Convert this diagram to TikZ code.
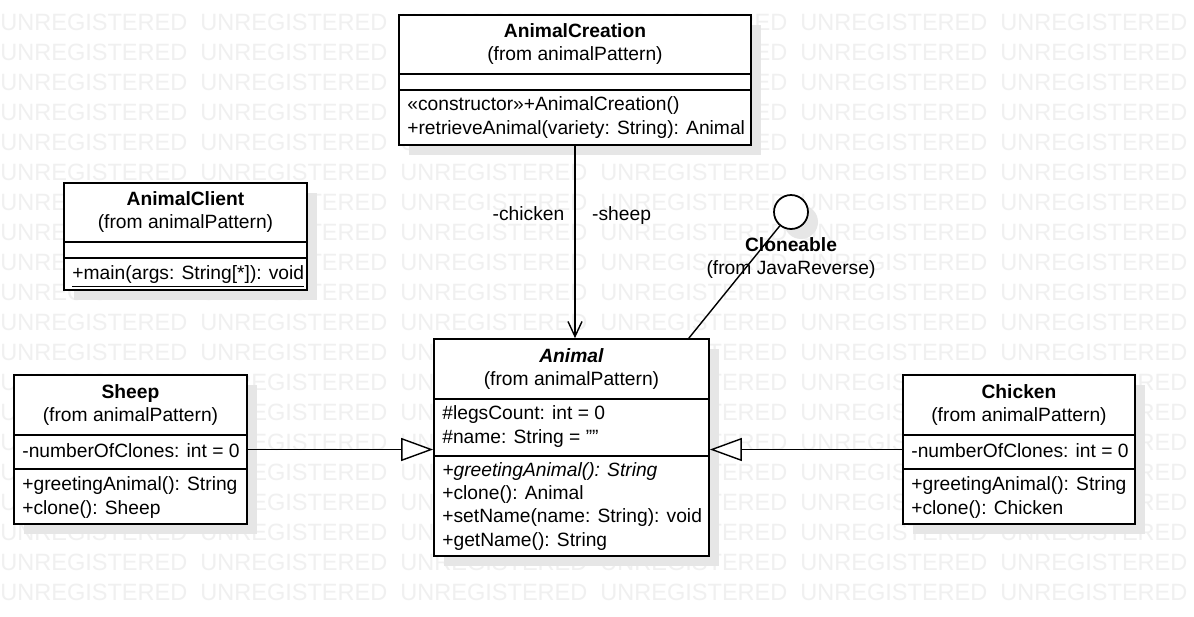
\documentclass[tikz,border=0pt]{standalone}
\usepackage{fontspec}
\setmainfont{Liberation Sans}
\usepackage{xcolor}
\usepackage{tikz}
\usetikzlibrary{arrows.meta, shadows}

\definecolor{markgray}{RGB}{240,240,240}
\definecolor{shadowgray}{RGB}{230,230,230}

\begin{document}
\begin{tikzpicture}[x=0.02cm, y=-0.02cm,
  every node/.style={font=\fontsize{10.95}{13.1}\selectfont, inner sep=0},
  umlbox/.style={draw, line width=1pt, fill=white, rectangle,
    drop shadow={shadow xshift=0.2cm, shadow yshift=-0.2cm, fill=shadowgray, opacity=1}},
  wmtext/.style={text=markgray, anchor=west, font=\fontsize{13.4}{16}\selectfont},
  header/.style={align=center},
  members/.style={align=left, anchor=base west},
  assoc/.style={line width=0.8pt, -{Straight Barb[length=0.3cm, width=0.28cm, line width=0.8pt]}},
  inherit/.style={line width=0.8pt, -{Triangle[open, fill=white, length=0.64cm, width=0.46cm, line width=0.8pt]}}
]
  % Page and watermark
  \fill[white] (0,0) rectangle (1194,616);
  \useasboundingbox (0,0) rectangle (1194,616);
  \foreach \r in {0,...,19}
    \foreach \c in {0,...,5}
      \node[wmtext] (wm-\r-\c) at ({200*\c},{22+30*\r}) {UNREGISTERED};

  % Class boxes
  \node[umlbox, minimum width=7.04cm, minimum height=2.6cm] (creation) at (575,80) {};
  \node[umlbox, minimum width=4.86cm, minimum height=2.14cm] (client) at (185.5,236.5) {};
  \node[umlbox, minimum width=5.5cm, minimum height=4.34cm] (animal) at (571.5,447.5) {};
  \node[umlbox, minimum width=4.66cm, minimum height=2.98cm] (sheep) at (130.5,449.5) {};
  \node[umlbox, minimum width=4.64cm, minimum height=2.98cm] (chicken) at (1019,449.5) {};

  % Compartment lines
  \draw[line width=1pt] (creation.west |- 0,74) -- (creation.east |- 0,74);
  \draw[line width=1pt] (creation.west |- 0,90) -- (creation.east |- 0,90);
  \draw[line width=1pt] (client.west |- 0,242) -- (client.east |- 0,242);
  \draw[line width=1pt] (client.west |- 0,258) -- (client.east |- 0,258);
  \draw[line width=1pt] (animal.west |- 0,399) -- (animal.east |- 0,399);
  \draw[line width=1pt] (animal.west |- 0,456) -- (animal.east |- 0,456);
  \draw[line width=1pt] (sheep.west |- 0,435) -- (sheep.east |- 0,435);
  \draw[line width=1pt] (sheep.west |- 0,469) -- (sheep.east |- 0,469);
  \draw[line width=1pt] (chicken.west |- 0,435) -- (chicken.east |- 0,435);
  \draw[line width=1pt] (chicken.west |- 0,469) -- (chicken.east |- 0,469);

  % AnimalCreation (member nodes sit on the baseline of their last line)
  \node[header] (creation-name) at (575,44.5) {\textbf{AnimalCreation}\\(from animalPattern)};
  \node[members] (creation-ops) at (407,134) {«constructor»+AnimalCreation()\\+retrieveAnimal(variety: String): Animal};

  % AnimalClient
  \node[header] (client-name) at (185.5,212.5) {\textbf{AnimalClient}\\(from animalPattern)};
  \node[members] (client-ops) at (72,279.5) {\underline{+main(args: String[*]): void}};

  % Animal
  \node[header] (animal-name) at (571.5,369) {\textbf{\textit{Animal}}\\(from animalPattern)};
  \node[members] (animal-attrs) at (442,443) {\#legsCount: int = 0\\\#name: String = \char34\char34};
  \node[members] (animal-ops) at (442,546) {\textit{+greetingAnimal(): String}\\+clone(): Animal\\+setName(name: String): void\\+getName(): String};

  % Sheep
  \node[header] (sheep-name) at (130.5,405) {\textbf{Sheep}\\(from animalPattern)};
  \node[members] (sheep-attrs) at (22,457) {-numberOfClones: int = 0};
  \node[members] (sheep-ops) at (22,514) {+greetingAnimal(): String\\+clone(): Sheep};

  % Chicken
  \node[header] (chicken-name) at (1019,405) {\textbf{Chicken}\\(from animalPattern)};
  \node[members] (chicken-attrs) at (911,457) {-numberOfClones: int = 0};
  \node[members] (chicken-ops) at (911,514) {+greetingAnimal(): String\\+clone(): Chicken};

  % Cloneable interface
  \node[draw, circle, line width=1pt, fill=white, minimum size=0.68cm,
    drop shadow={shadow xshift=0.2cm, shadow yshift=-0.2cm, fill=shadowgray, opacity=1}] (cloneable) at (791,212) {};
  \node[header] (cloneable-name) at (791,258.5) {\textbf{Cloneable}\\(from JavaReverse)};

  % Association with role names
  \draw[assoc] (creation.south) -- (creation.south |- animal.north)
    node[pos=0.387, anchor=base east, xshift=-0.2cm] (role-chicken) {-chicken}
    node[pos=0.387, anchor=base west, xshift=0.33cm] (role-sheep) {-sheep};

  % Generalizations
  \draw[inherit] (sheep.east) -- (sheep.east -| animal.west);
  \draw[inherit] (chicken.west) -- (chicken.west -| animal.east);

  % Realization of Cloneable
  \draw[line width=0.8pt] (cloneable) -- ([xshift=-0.42cm]animal.north east);
\end{tikzpicture}
\end{document}
